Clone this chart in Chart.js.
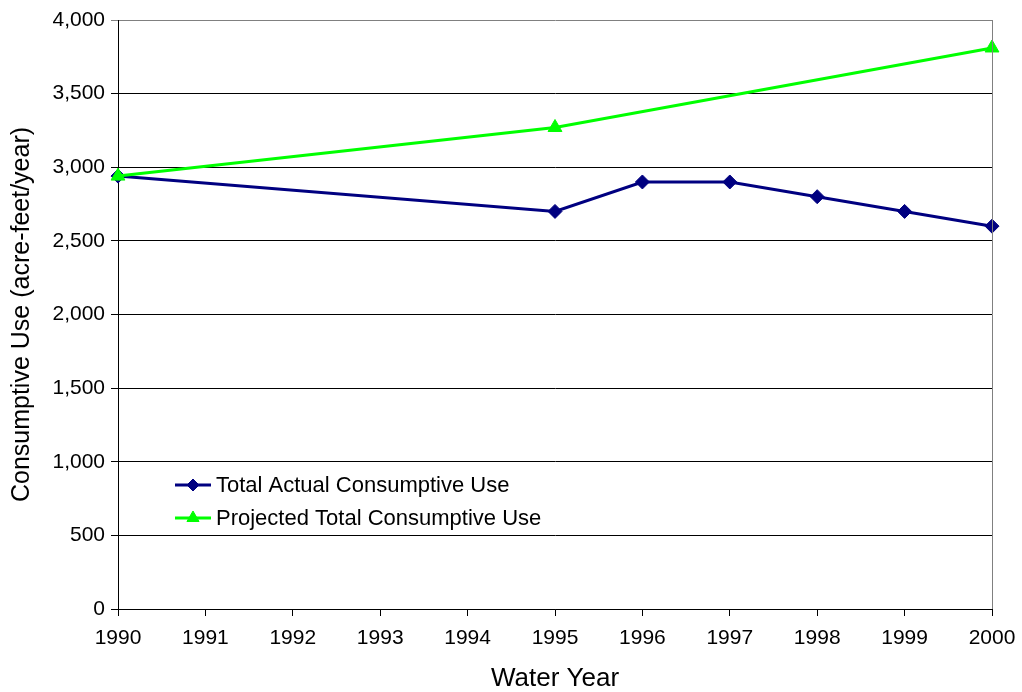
<!DOCTYPE html>
<html>
<head>
<meta charset="utf-8">
<script src="https://cdn.jsdelivr.net/npm/chart.js@4"></script>
<style>
	html, body { margin: 0; padding: 0; background: #fff; }
	#wrap { width: 1022px; height: 692px; }
</style>
</head>
<body>
<div id="wrap"><canvas id="myChart"></canvas></div>
<script>
const years = [1990, 1995, 1996, 1997, 1998, 1999, 2000];
const actualUse = [2940, 2700, 2900, 2900, 2800, 2700, 2600];
const projectedYears = [1990, 1995, 2000];
const projectedUse = [2940, 3270, 3810];

const FONT = "'Liberation Sans', Arial, sans-serif";

// legend drawn inside the plot area, no box
const innerLegend = {
	id: "innerLegend",
	afterDraw(chart) {
		const ctx = chart.ctx;
		const area = chart.chartArea;
		const x0 = area.left + 57;
		let y = area.top + 465;
		chart.data.datasets.forEach((ds) => {
			ctx.save();
			ctx.strokeStyle = ds.borderColor;
			ctx.fillStyle = ds.backgroundColor;
			ctx.lineWidth = 3;
			ctx.beginPath();
			ctx.moveTo(x0, y);
			ctx.lineTo(x0 + 36, y);
			ctx.stroke();
			ctx.lineWidth = 1;
			Chart.helpers.drawPoint(ctx, {
				pointStyle: ds.pointStyle,
				radius: ds.pointRadius - 1,
				borderWidth: 1,
			}, x0 + 18, y);
			ctx.fillStyle = "#000";
			ctx.font = "22px " + FONT;
			ctx.textBaseline = "middle";
			ctx.fillText(ds.label, x0 + 41, y + 1);
			ctx.restore();
			y += 33;
		});
	},
};

// grey frame on the right side of the plot
const rightBorder = {
	id: "rightBorder",
	afterDatasetsDraw(chart) {
		const ctx = chart.ctx;
		const a = chart.chartArea;
		ctx.save();
		ctx.strokeStyle = "#808080";
		ctx.lineWidth = 1;
		ctx.beginPath();
		ctx.moveTo(a.right + 0.5, a.top);
		ctx.lineTo(a.right + 0.5, a.bottom);
		ctx.stroke();
		ctx.restore();
	},
};

const ctx = document.getElementById("myChart");

new Chart(ctx, {
	type: "line",
	data: {
		datasets: [
			{
				label: "Total Actual Consumptive Use",
				data: years.map((y, i) => ({ x: y, y: actualUse[i] })),
				borderColor: "#000080",
				backgroundColor: "#000080",
				pointBorderColor: "#000080",
				borderWidth: 3,
				pointStyle: "rectRot",
				pointRadius: 7,
				pointBorderWidth: 1,
				tension: 0,
				order: 1,
				clip: false,
			},
			{
				label: "Projected Total Consumptive Use",
				data: projectedYears.map((y, i) => ({ x: y, y: projectedUse[i] })),
				borderColor: "#00FF00",
				backgroundColor: "#00FF00",
				pointBorderColor: "#00FF00",
				borderWidth: 3,
				pointStyle: "triangle",
				pointRadius: 8,
				pointBorderWidth: 1,
				tension: 0,
				order: 0,
				clip: false,
			},
		],
	},
	options: {
		responsive: true,
		maintainAspectRatio: false,
		animation: false,
		layout: {
			padding: { left: 0, right: 30, top: 20, bottom: 0 },
		},
		plugins: {
			legend: { display: false },
			tooltip: { enabled: false },
		},
		scales: {
			x: {
				type: "linear",
				min: 1990,
				max: 2000,
				afterFit: (s) => {
					s.height = 83;
					s.paddingLeft = 0;
					s.paddingRight = 0;
				},
				ticks: {
					stepSize: 1,
					callback: (v) => String(v),
					color: "#000",
					font: { family: FONT, size: 21 },
					padding: 10,
					maxRotation: 0,
				},
				grid: {
					drawOnChartArea: false,
					color: "#000",
					tickLength: 7,
				},
				border: { color: "#000", width: 1 },
				title: {
					display: true,
					text: "Water Year",
					color: "#000",
					font: { family: FONT, size: 26, lineHeight: 1 },
					padding: { top: 4, bottom: 0 },
				},
			},
			y: {
				min: 0,
				max: 4000,
				afterFit: (s) => {
					s.width = 118;
					s.paddingTop = 0;
					s.paddingBottom = 0;
				},
				ticks: {
					stepSize: 500,
					color: "#000",
					font: { family: FONT, size: 21 },
					padding: 6,
				},
				grid: {
					color: (c) => (c.tick && c.tick.value === 4000 ? "#808080" : "#000"),
					tickLength: 7,
				},
				border: { color: "#000", width: 1 },
				title: {
					display: true,
					text: "Consumptive Use (acre-feet/year)",
					color: "#000",
					font: { family: FONT, size: 25 },
					padding: { top: 7, bottom: 4 },
				},
			},
		},
	},
	plugins: [innerLegend, rightBorder],
});
</script>
</body>
</html>
